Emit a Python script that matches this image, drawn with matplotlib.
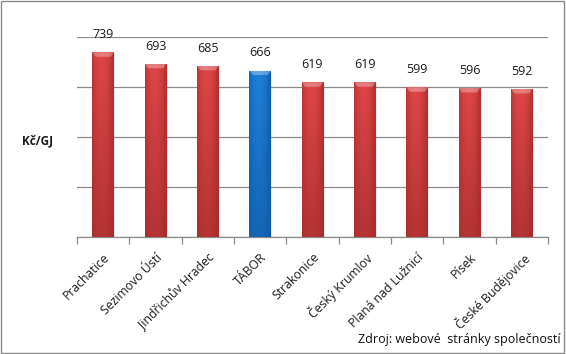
import numpy as np
import matplotlib.pyplot as plt
from matplotlib.patches import Rectangle

mesta = ['Prachatice', 'Sezimovo Ústí', 'Jindřichův Hradec', 'TÁBOR', 'Strakonice',
         'Český Krumlov', 'Planá nad Lužnicí', 'Písek', 'České Budějovice']
ceny = [739, 693, 685, 666, 619, 619, 599, 596, 592]
zvyraznit = 'TÁBOR'

plt.rcParams['font.family'] = ['Open Sans', 'DejaVu Sans']

fig = plt.figure(figsize=(5.66, 3.54), dpi=100)
ax = fig.add_axes([77 / 566, 1 - 237 / 354, 471 / 566, 200 / 354])

x = np.arange(len(mesta))
bars = ax.bar(x, ceny, width=0.41, color='none', edgecolor='none', zorder=3)

# gradient fill for the cylinder-like bars
def gradient(c_mid, c_edge, c_bottom):
    c_mid, c_edge, c_bottom = (np.array(plt.matplotlib.colors.to_rgb(c)) for c in (c_mid, c_edge, c_bottom))
    u = np.linspace(-1, 1, 40)
    h = np.clip(np.abs(u + 0.1) ** 2.2, 0, 1)[None, :, None]
    v = np.linspace(0, 1, 100)[:, None, None]  # 0 = top, 1 = bottom
    row = c_mid * (1 - h) + c_edge * h
    img = row * (1 - v * 0.7) + c_bottom * (v * 0.7)
    return np.clip(img, 0, 1)

red = gradient('#de4646', '#b53232', '#a32b2b')
blue = gradient('#1e80d8', '#1060b0', '#0f5aa6')

for name, b, val in zip(mesta, bars, ceny):
    img = blue if name == zvyraznit else red
    x0, w, hgt = b.get_x(), b.get_width(), b.get_height()
    # faint shadow
    ax.add_patch(Rectangle((x0 + 0.03, 0), w, hgt - 4, color='#000000', alpha=0.08,
                           lw=0, zorder=2.5))
    im = ax.imshow(img, extent=[x0, x0 + w, 0, hgt], aspect='auto', zorder=3,
                   interpolation='bilinear')
    clip = Rectangle((x0, 0), w, hgt, transform=ax.transData)
    im.set_clip_path(clip)
    # top bevel highlight
    ax.fill([x0, x0 + w, x0 + w * 0.85, x0 + w * 0.15], [hgt, hgt, hgt - 18, hgt - 18],
            color='white', alpha=0.3, lw=0, zorder=4)
    ax.annotate(str(val), (x0 + w / 2, hgt), xytext=(0, 8), textcoords='offset points',
                ha='center', va='bottom', fontsize=9, color='#1a1a1a')

ax.set_xlim(-0.5, len(mesta) - 0.5)
ax.set_ylim(0, 800)
ax.set_yticks([0, 200, 400, 600, 800])
ax.yaxis.grid(True, color='#8a8a8a', lw=0.9)
ax.set_axisbelow(True)
ax.tick_params(axis='y', left=False, labelleft=False)

ax.set_xticks(x)
ax.set_xticklabels(mesta, rotation=45, ha='right', rotation_mode='anchor', fontsize=8.8,
                   color='#1a1a1a')
ax.set_xticks(np.arange(-0.5, len(mesta)), minor=True)
ax.tick_params(axis='x', which='major', length=0, pad=10)
ax.tick_params(axis='x', which='minor', length=5, color='#8a8a8a', width=0.9)

for s in ['left', 'right', 'top']:
    ax.spines[s].set_visible(False)
ax.spines['bottom'].set_color('#8a8a8a')
ax.spines['bottom'].set_linewidth(0.9)

fig.text(38 / 566, 1 - 141 / 354, 'Kč/GJ', ha='center', va='center', fontsize=8.5,
         fontweight='bold', color='#1a1a1a')
fig.text(0.99, 1 - 339 / 354, 'Zdroj: webové  stránky společností', ha='right',
         va='center', fontsize=9, color='#111111')

fig.add_artist(Rectangle((0.002, 0.003), 0.995, 0.994, transform=fig.transFigure,
                         fill=False, edgecolor='#8a8a8a', lw=1))

fig.savefig('out.png', dpi=100)
